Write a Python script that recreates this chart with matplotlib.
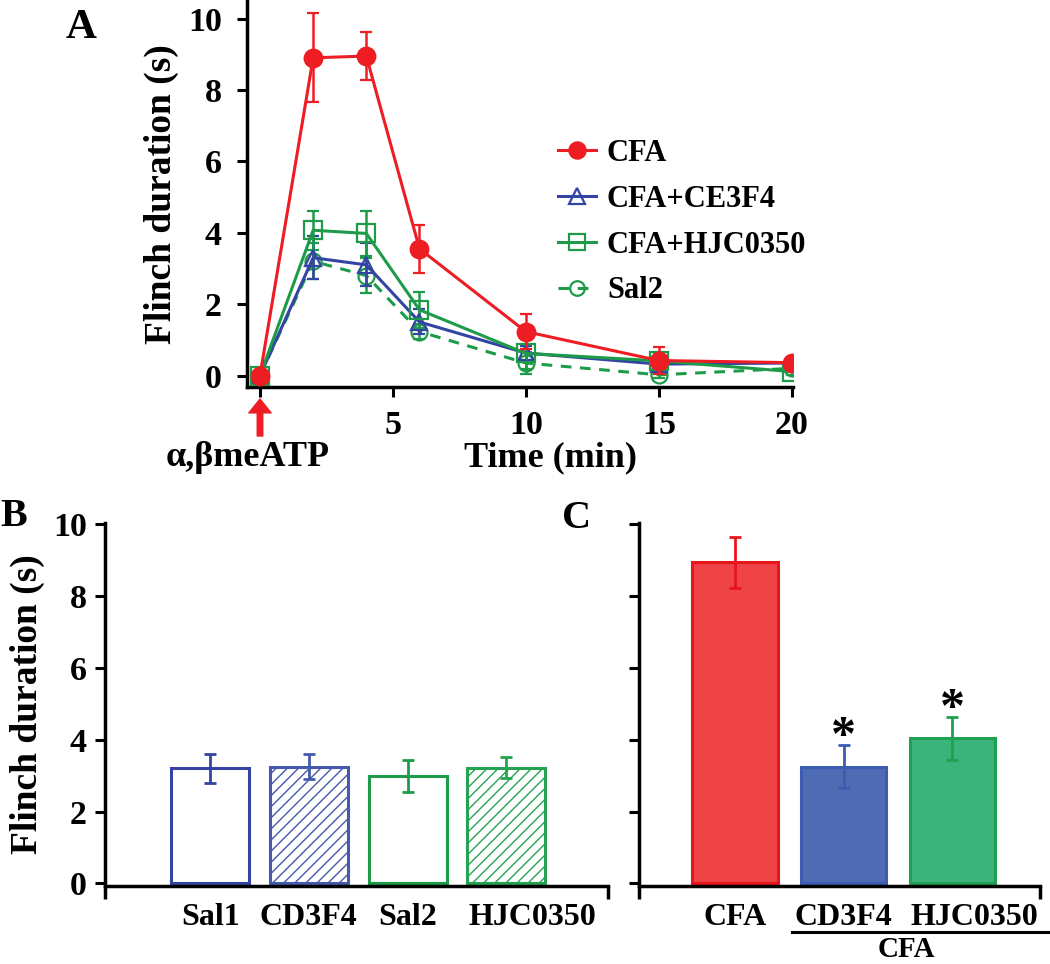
import matplotlib
matplotlib.use("Agg")
import matplotlib.pyplot as plt
from matplotlib.lines import Line2D
import numpy as np
from matplotlib import transforms

plt.rcParams['font.family'] = ['Liberation Serif', 'DejaVu Serif']
plt.rcParams['font.weight'] = 'bold'
plt.rcParams['hatch.linewidth'] = 1.0

# ---------------- data ----------------
time_min = [0, 2, 4, 6, 10, 15, 20]
cfa = [0.0, 8.9, 8.95, 3.55, 1.23, 0.42, 0.36]
cfa_err = [0.05, 1.25, 0.68, 0.67, 0.5, 0.38, 0.1]
ce3f4 = [0.0, 3.3, 3.1, 1.5, 0.63, 0.32, 0.35]
ce3f4_err = [0.05, 0.6, 0.6, 0.35, 0.2, 0.15, 0.1]
hjc = [0.0, 4.07, 3.98, 1.84, 0.62, 0.41, 0.11]
hjc_err = [0.05, 0.55, 0.62, 0.5, 0.45, 0.2, 0.1]
sal2 = [0.0, 3.2, 2.8, 1.23, 0.35, 0.02, 0.2]
sal2_err = [0.05, 0.5, 0.5, 0.2, 0.3, 0.1, 0.1]
series_labels = ['CFA', 'CFA+CE3F4', 'CFA+HJC0350', 'Sal2']

b_labels = ['Sal1', 'CD3F4', 'Sal2', 'HJC0350']
b_values = [3.2, 3.25, 2.98, 3.22]
b_err = [0.4, 0.36, 0.45, 0.3]

c_labels = ['CFA', 'CD3F4', 'HJC0350']
c_values = [8.92, 3.25, 4.03]
c_err = [0.72, 0.6, 0.6]
c_sig = ['', '*', '*']

# ---------------- style ----------------
RED = '#ee1d24'
BLUE = '#3444a2'
GREEN = '#1d9b48'
W, H = 1050, 964

fig = plt.figure(figsize=(W / 100, H / 100), dpi=100)

def px_axes(x0, x1, ytop, ybot):
    return fig.add_axes([x0 / W, 1 - ybot / H, (x1 - x0) / W, (ybot - ytop) / H])

SPW = 2.5
def style_axes(ax):
    for s in ['top', 'right']:
        ax.spines[s].set_visible(False)
    for s in ['left', 'bottom']:
        ax.spines[s].set_linewidth(SPW)
    ax.tick_params(width=2.2, length=7, direction='out')

# ---------------- panel A ----------------
axA = px_axes(246.7, 793, 0, 387.3)
style_axes(axA)
axA.set_xlim(-0.5, 20.05)
axA.set_ylim(-0.33, 10.52)

series = [
    (sal2, sal2_err, GREEN, (0, (3.5, 2.8)), 'o', 11.5, 'none', 2),
    (ce3f4, ce3f4_err, BLUE, '-', '^', 12, 'none', 3),
    (hjc, hjc_err, GREEN, '-', 's', 12.5, 'none', 3),
    (cfa, cfa_err, RED, '-', 'o', 12.7, RED, 4),
]
series_names = [series_labels[3], series_labels[1], series_labels[2], series_labels[0]]
legend_handles = {}
for (vals, errs, col, ls, mk, ms, mfc, z), name in zip(series, series_names):
    axA.errorbar(time_min, vals, yerr=errs, color=col, ls=ls, marker=mk, ms=ms,
                 mfc=mfc, lw=2.2, elinewidth=1.8, capsize=4.3, capthick=1.8,
                 mew=1.6, zorder=z)
    legend_handles[name] = Line2D([], [], color=col, ls=ls, marker=mk, ms=ms - 1,
                                  mfc=mfc, lw=2.2, mew=1.6)

axA.set_yticks([0, 2, 4, 6, 8, 10])
axA.set_xticks([0, 5, 10, 15, 20])
axA.set_xticklabels(['', '5', '10', '15', '20'])
axA.tick_params(labelsize=24.5)
axA.tick_params(axis='y', pad=11)
axA.tick_params(axis='x', pad=9)
axA.set_ylabel('Flinch duration (s)', fontsize=27, fontweight='bold', labelpad=6)

leg = axA.legend([legend_handles[l] for l in series_labels], series_labels,
                 loc='upper left', bbox_to_anchor=(558 / W, 1 - 139 / H),
                 bbox_transform=fig.transFigure, frameon=False, fontsize=22,
                 handlelength=1.25, handletextpad=0.35, labelspacing=0.55,
                 borderpad=0, borderaxespad=0)

# arrow marking the injection
trA = transforms.blended_transform_factory(axA.transData, axA.transAxes)
axA.annotate('', xy=(0, (387.3 - 399) / 387.3), xycoords=trA,
             xytext=(0, (387.3 - 436) / 387.3), textcoords=trA,
             arrowprops=dict(arrowstyle='simple, head_width=0.8, head_length=0.5, tail_width=0.2',
                             color=RED, mutation_scale=20, shrinkA=0, shrinkB=0),
             annotation_clip=False)
fig.text(248 / W, 1 - 458 / H, 'α,βmeATP', fontsize=26, fontweight='bold',
         ha='center', va='center')
fig.text(551 / W, 1 - 458 / H, 'Time (min)', fontsize=26, fontweight='bold',
         ha='center', va='center')
fig.text(81 / W, 1 - 28 / H, 'A', fontsize=31, fontweight='bold', ha='center', va='center')

# ---------------- panel B ----------------
axB = px_axes(105, 608, 522.5, 886)
style_axes(axB)
xb = np.arange(len(b_labels))
axB.set_xlim(-1.064, 4.03)
axB.set_ylim(-0.07, 10.03)
b_edge = [BLUE, '#4559ad', GREEN, '#26a352']
b_hatch = [None, '///', None, '///']
for i in range(len(b_labels)):
    axB.bar(xb[i], b_values[i], width=0.79, facecolor='white', edgecolor=b_edge[i],
            hatch=b_hatch[i], linewidth=2.2, zorder=2)
    axB.errorbar(xb[i], b_values[i], yerr=b_err[i], color=b_edge[i], lw=0,
                 elinewidth=2.0, capsize=4.5, capthick=2.0, zorder=3)
axB.set_yticks([0, 2, 4, 6, 8, 10])
axB.tick_params(axis='y', labelsize=24.5, pad=6)
axB.set_xticks(xb)
axB.set_xticklabels(b_labels, fontsize=23)
axB.tick_params(axis='x', length=0, pad=12)
axB.set_xticks([-1.064, 4.03], minor=True)
axB.tick_params(axis='x', which='minor', length=9, width=2.5)
lab = axB.get_xticklabels()[3]
lab.set_transform(lab.get_transform() + transforms.ScaledTranslation(26 / 100, 0, fig.dpi_scale_trans))
axB.set_ylabel('Flinch duration (s)', fontsize=27, fontweight='bold', labelpad=6)
fig.text(14 / W, 1 - 517 / H, 'B', fontsize=29, fontweight='bold', ha='center', va='center')

# ---------------- panel C ----------------
axC = px_axes(639, 1040, 522.5, 886)
style_axes(axC)
xc = np.arange(len(c_labels))
axC.set_xlim(-0.883, 2.805)
axC.set_ylim(-0.07, 10.03)
c_face = ['#ef4447', '#4f6bb4', '#3bb47b']
c_edge = ['#e8151d', '#3c5cb1', '#1fa052']
for i in range(len(c_labels)):
    axC.bar(xc[i], c_values[i], width=0.786, facecolor=c_face[i], edgecolor=c_edge[i],
            linewidth=2.2, zorder=2)
    axC.errorbar(xc[i], c_values[i], yerr=c_err[i], color=c_edge[i], lw=0,
                 elinewidth=2.0, capsize=4.5, capthick=2.0, zorder=3)
    if c_sig[i]:
        axC.annotate(c_sig[i], xy=(xc[i], c_values[i] + c_err[i]), xytext=(0, -4),
                     textcoords='offset points', ha='center', va='baseline',
                     fontsize=36, fontweight='bold')
axC.set_yticks([0, 2, 4, 6, 8, 10])
axC.set_yticklabels([])
axC.set_xticks(xc)
axC.set_xticklabels(c_labels, fontsize=23)
axC.tick_params(axis='x', length=0, pad=12)
axC.set_xticks([-0.883, 2.805], minor=True)
axC.tick_params(axis='x', which='minor', length=9, width=2.5)
labc = axC.get_xticklabels()[2]
labc.set_transform(labc.get_transform() + transforms.ScaledTranslation(22 / 100, 0, fig.dpi_scale_trans))
fig.text(577 / W, 1 - 518 / H, 'C', fontsize=29, fontweight='bold', ha='center', va='center')

# group bracket under the CFA-treated bars
fig.add_artist(Line2D([792 / W, 1050 / W], [1 - 932 / H, 1 - 932 / H],
                      color='black', lw=2.2))
fig.text(906 / W, 1 - 963 / H, 'CFA', fontsize=21, fontweight='bold', ha='center', va='bottom')

fig.savefig('out.png', dpi=100)
